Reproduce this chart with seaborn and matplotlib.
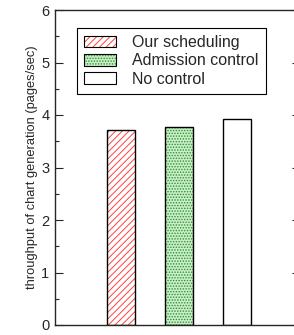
import matplotlib
matplotlib.use("Agg")
import matplotlib.pyplot as plt
import seaborn as sns
import pandas as pd
from matplotlib.patches import Patch
from matplotlib.ticker import MultipleLocator

# values
methods = ["Our scheduling", "Admission control", "No control"]
throughput = [3.72, 3.78, 3.93]
hatches = ["/////", "......", ""]
colors = ["#ff4040", "#229922", "black"]
fills = ["white", "#cdeccd", "white"]

data = pd.DataFrame({"method": methods, "throughput": throughput})

sns.set_style("ticks")
plt.rcParams["font.family"] = ["Liberation Sans", "DejaVu Sans"]
plt.rcParams["hatch.linewidth"] = 0.7

fig = plt.figure(figsize=(2.94, 3.35), dpi=100)
ax = fig.add_axes([55 / 294, 10 / 335, 245 / 294, 315 / 335])

# hatched fill
sns.barplot(data=data, x="method", y="throughput", ax=ax, width=0.48,
            color="white", saturation=1, errorbar=None)
for p, h, c, f in zip(ax.patches, hatches, colors, fills):
    p.set_hatch(h)
    p.set_facecolor(f)
    p.set_edgecolor(c)
    p.set_linewidth(0)
# black outline on top
sns.barplot(data=data, x="method", y="throughput", ax=ax, width=0.48,
            fill=False, edgecolor="black", linewidth=1.0, errorbar=None)

ax.set_xlim(-1.14, 3.09)
ax.set_ylim(0, 6)
ax.yaxis.set_major_locator(MultipleLocator(1))
ax.yaxis.set_minor_locator(MultipleLocator(0.5))
ax.tick_params(axis="y", which="both", direction="in", left=True, right=True,
               labelsize=10.5, pad=4, width=0.8)
ax.tick_params(axis="y", which="major", length=6)
ax.tick_params(axis="y", which="minor", length=3)
ax.set_xticks([])
ax.set_xlabel("")
ax.set_ylabel("throughput of chart generation (pages/sec)", fontsize=9.3, labelpad=2)
for s in ax.spines.values():
    s.set_linewidth(1.0)

handles = []
for h, c, f in zip(hatches, colors, fills):
    fillp = Patch(facecolor=f, edgecolor=c, hatch=h, linewidth=0)
    edge = Patch(facecolor="none", edgecolor="black", linewidth=0.8)
    handles.append((fillp, edge))
leg = ax.legend(handles, methods, loc="upper left", bbox_to_anchor=(0.09, 0.943),
                borderaxespad=0, fontsize=11.5, frameon=True, fancybox=False,
                edgecolor="black", framealpha=1, handlelength=2.0, handleheight=0.75,
                handletextpad=1.0, labelspacing=0.2, borderpad=0.45)
leg.get_frame().set_linewidth(0.8)

fig.savefig("out.png", dpi=100)
